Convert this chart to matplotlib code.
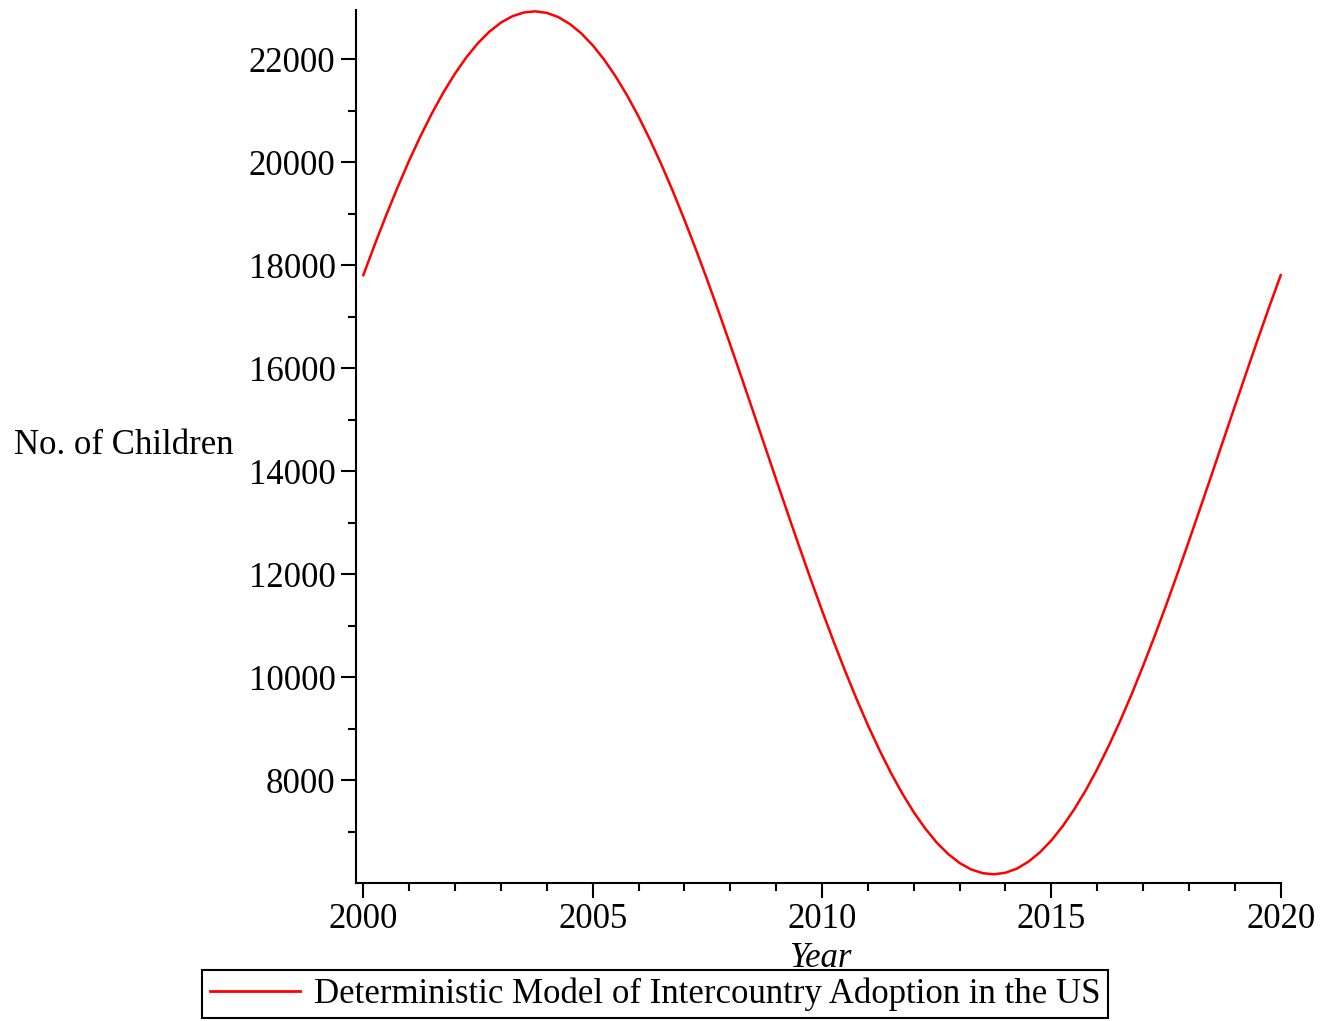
import numpy as np
import matplotlib
matplotlib.use("Agg")
import matplotlib.pyplot as plt
from matplotlib.ticker import MultipleLocator

plt.rcParams['font.family'] = ['Liberation Serif', 'DejaVu Serif']

# model output, sampled every quarter year
years = [2000.00, 2000.25, 2000.50, 2000.75, 2001.00, 2001.25, 2001.50, 2001.75,
         2002.00, 2002.25, 2002.50, 2002.75, 2003.00, 2003.25, 2003.50, 2003.75,
         2004.00, 2004.25, 2004.50, 2004.75, 2005.00, 2005.25, 2005.50, 2005.75,
         2006.00, 2006.25, 2006.50, 2006.75, 2007.00, 2007.25, 2007.50, 2007.75,
         2008.00, 2008.25, 2008.50, 2008.75, 2009.00, 2009.25, 2009.50, 2009.75,
         2010.00, 2010.25, 2010.50, 2010.75, 2011.00, 2011.25, 2011.50, 2011.75,
         2012.00, 2012.25, 2012.50, 2012.75, 2013.00, 2013.25, 2013.50, 2013.75,
         2014.00, 2014.25, 2014.50, 2014.75, 2015.00, 2015.25, 2015.50, 2015.75,
         2016.00, 2016.25, 2016.50, 2016.75, 2017.00, 2017.25, 2017.50, 2017.75,
         2018.00, 2018.25, 2018.50, 2018.75, 2019.00, 2019.25, 2019.50, 2019.75,
         2020.00]
children = [17809, 18404, 18975, 19519, 20035, 20514, 20958, 21362,
            21724, 22042, 22314, 22537, 22712, 22836, 22909, 22931,
            22901, 22820, 22687, 22505, 22273, 21994, 21668, 21300,
            20889, 20439, 19954, 19436, 18884, 18310, 17711, 17092,
            16457, 15811, 15158, 14500, 13843, 13191, 12546, 11914,
            11298, 10702, 10131, 9587, 9071, 8592, 8148, 7744,
            7382, 7064, 6792, 6569, 6394, 6270, 6197, 6175,
            6205, 6286, 6419, 6601, 6833, 7112, 7438, 7806,
            8217, 8667, 9152, 9670, 10222, 10796, 11395, 12014,
            12649, 13295, 13948, 14606, 15263, 15915, 16560, 17192,
            17808]

x_major = [2000, 2005, 2010, 2015, 2020]
y_major = [8000, 10000, 12000, 14000, 16000, 18000, 20000, 22000]

series_label = "Deterministic Model of Intercountry Adoption in the US"

W, H = 1332, 1021
fig = plt.figure(figsize=(W / 100, H / 100), dpi=100)
ax = fig.add_axes([355.7 / W, 1 - 883 / H, (1280.7 - 355.7) / W, (883 - 10) / H])

line, = ax.plot(years, children, color='red', lw=1.8, label=series_label)
line.set_clip_on(False)

ax.set_xlim(1999.834, 2020)
ax.set_ylim(6006, 22957)

for s in ('top', 'right'):
    ax.spines[s].set_visible(False)
for s in ('left', 'bottom'):
    ax.spines[s].set_linewidth(1.5)

ax.set_xticks(x_major)
ax.set_yticks(y_major)
ax.xaxis.set_minor_locator(MultipleLocator(1))
ax.yaxis.set_minor_locator(MultipleLocator(1000))
ax.tick_params(which='major', direction='out', length=10.5, width=1.5,
               labelsize=25, pad=4)
ax.tick_params(which='minor', direction='out', length=6, width=1.5)

fig.text(14 / W, 1 - 445 / H, "No. of Children", fontsize=25,
         ha='left', va='center')
fig.text(820 / W, 1 - 958 / H, "Year", fontsize=25, style='italic',
         ha='center', va='center')

leg = fig.legend(handles=[line], loc='center',
                 bbox_to_anchor=(655 / W, 1 - 994 / H),
                 fontsize=25, frameon=True, fancybox=False, framealpha=1,
                 handlelength=2.6, handletextpad=0.4, borderpad=0.22,
                 borderaxespad=0)
leg.get_frame().set_edgecolor('black')
leg.get_frame().set_linewidth(1.5)
leg.get_lines()[0].set_linewidth(2)

fig.savefig("out.png", dpi=100)
